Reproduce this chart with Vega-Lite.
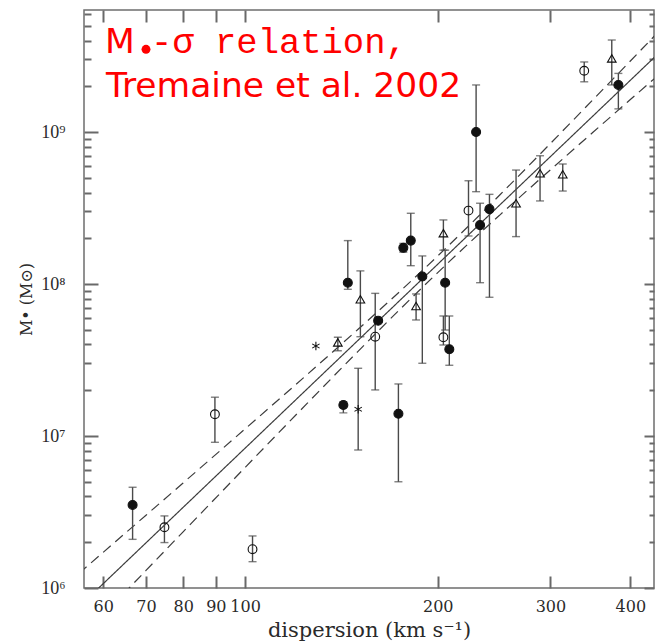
{
  "$schema": "https://vega.github.io/schema/vega-lite/v6.json",
  "width": 570,
  "height": 578,
  "autosize": {"type": "none"},
  "padding": {"left": 84, "top": 10, "right": 1, "bottom": 55},
  "background": "white",
  "config": {
    "view": {"stroke": "#6e6e6e", "strokeWidth": 1.5},
    "axis": {
      "grid": false,
      "domain": false,
      "ticks": true,
      "zindex": 1,
      "labelFont": "DejaVu Serif",
      "labelColor": "#2a2a2a",
      "titleFont": "DejaVu Serif",
      "titleFontWeight": "normal",
      "titleColor": "#2a2a2a"
    }
  },
  "datasets": {
    "galaxies": [
      {"sigma": 66.7, "mass": 3.52e6, "lo": 2.09e6, "hi": 4.6e6, "type": "filled"},
      {"sigma": 74.8, "mass": 2.51e6, "lo": 1.99e6, "hi": 2.98e6, "type": "open"},
      {"sigma": 89.7, "mass": 1.39e7, "lo": 9.09e6, "hi": 1.8e7, "type": "open"},
      {"sigma": 102.7, "mass": 1.8e6, "lo": 1.49e6, "hi": 2.2e6, "type": "open"},
      {"sigma": 129, "mass": 3.91e7, "lo": null, "hi": null, "type": "asterisk"},
      {"sigma": 139.6, "mass": 4.13e7, "lo": 3.64e7, "hi": 4.46e7, "type": "triangle"},
      {"sigma": 142.4, "mass": 1.6e7, "lo": 1.42e7, "hi": 1.68e7, "type": "filled"},
      {"sigma": 144.7, "mass": 1.02e8, "lo": 9.23e7, "hi": 1.93e8, "type": "filled"},
      {"sigma": 150.2, "mass": 1.5e7, "lo": 8.09e6, "hi": 2.79e7, "type": "asterisk"},
      {"sigma": 151.4, "mass": 7.93e7, "lo": 4.5e7, "hi": 1.22e8, "type": "triangle"},
      {"sigma": 159.7, "mass": 4.5e7, "lo": 2.01e7, "hi": 8.68e7, "type": "open"},
      {"sigma": 161.4, "mass": 5.74e7, "lo": null, "hi": null, "type": "filled"},
      {"sigma": 173.6, "mass": 1.4e7, "lo": 5.0e6, "hi": 2.2e7, "type": "filled"},
      {"sigma": 176.7, "mass": 1.73e8, "lo": 1.62e8, "hi": 1.85e8, "type": "filled"},
      {"sigma": 181.5, "mass": 1.93e8, "lo": 1.32e8, "hi": 2.92e8, "type": "filled"},
      {"sigma": 185, "mass": 7.17e7, "lo": 5.8e7, "hi": 8.6e7, "type": "triangle"},
      {"sigma": 189.2, "mass": 1.12e8, "lo": 3.01e7, "hi": 1.53e8, "type": "filled"},
      {"sigma": 204.1, "mass": 2.16e8, "lo": 1.67e8, "hi": 2.64e8, "type": "triangle"},
      {"sigma": 205.4, "mass": 1.02e8, "lo": 4.98e7, "hi": 1.67e8, "type": "filled"},
      {"sigma": 204.1, "mass": 4.46e7, "lo": 3.97e7, "hi": 6.16e7, "type": "open"},
      {"sigma": 208.5, "mass": 3.72e7, "lo": 2.92e7, "hi": 6.16e7, "type": "filled"},
      {"sigma": 223.4, "mass": 3.04e8, "lo": 2.07e8, "hi": 4.78e8, "type": "open"},
      {"sigma": 229.6, "mass": 1.0e9, "lo": 4.05e8, "hi": 2.04e9, "type": "filled"},
      {"sigma": 232.9, "mass": 2.44e8, "lo": 1.02e8, "hi": 3.4e8, "type": "filled"},
      {"sigma": 240.9, "mass": 3.11e8, "lo": 8.18e7, "hi": 3.89e8, "type": "filled"},
      {"sigma": 265.1, "mass": 3.4e8, "lo": 2.05e8, "hi": 5.62e8, "type": "triangle"},
      {"sigma": 289, "mass": 5.35e8, "lo": 3.52e8, "hi": 6.98e8, "type": "triangle"},
      {"sigma": 313.6, "mass": 5.27e8, "lo": 4.09e8, "hi": 6.16e8, "type": "triangle"},
      {"sigma": 338.8, "mass": 2.53e9, "lo": 2.14e9, "hi": 2.89e9, "type": "open"},
      {"sigma": 374.1, "mass": 3.05e9, "lo": 2.04e9, "hi": 4.03e9, "type": "triangle"},
      {"sigma": 383.1, "mass": 2.04e9, "lo": 1.42e9, "hi": 2.43e9, "type": "filled"}
    ],
    "fit": [
      {"sigma": 55, "mass": 7.52e5, "curve": "fit"},
      {"sigma": 440, "mass": 3.213e9, "curve": "fit"},
      {"sigma": 55, "mass": 1.249e6, "curve": "upper"},
      {"sigma": 60, "mass": 1.716e6, "curve": "upper"},
      {"sigma": 70, "mass": 3.013e6, "curve": "upper"},
      {"sigma": 80, "mass": 4.912e6, "curve": "upper"},
      {"sigma": 100, "mass": 1.114e7, "curve": "upper"},
      {"sigma": 125, "mass": 2.537e7, "curve": "upper"},
      {"sigma": 150, "mass": 5.017e7, "curve": "upper"},
      {"sigma": 175, "mass": 9.03e7, "curve": "upper"},
      {"sigma": 200, "mass": 1.53e8, "curve": "upper"},
      {"sigma": 225, "mass": 2.477e8, "curve": "upper"},
      {"sigma": 250, "mass": 3.85e8, "curve": "upper"},
      {"sigma": 300, "mass": 8.403e8, "curve": "upper"},
      {"sigma": 350, "mass": 1.64e9, "curve": "upper"},
      {"sigma": 400, "mass": 2.933e9, "curve": "upper"},
      {"sigma": 440, "mass": 4.447e9, "curve": "upper"},
      {"sigma": 55, "mass": 4.534e5, "curve": "lower"},
      {"sigma": 60, "mass": 6.64e5, "curve": "lower"},
      {"sigma": 70, "mass": 1.305e6, "curve": "lower"},
      {"sigma": 80, "mass": 2.342e6, "curve": "lower"},
      {"sigma": 100, "mass": 6.212e6, "curve": "lower"},
      {"sigma": 125, "mass": 1.639e7, "curve": "lower"},
      {"sigma": 150, "mass": 3.593e7, "curve": "lower"},
      {"sigma": 175, "mass": 6.883e7, "curve": "lower"},
      {"sigma": 200, "mass": 1.189e8, "curve": "lower"},
      {"sigma": 225, "mass": 1.896e8, "curve": "lower"},
      {"sigma": 250, "mass": 2.841e8, "curve": "lower"},
      {"sigma": 300, "mass": 5.641e8, "curve": "lower"},
      {"sigma": 350, "mass": 9.998e8, "curve": "lower"},
      {"sigma": 400, "mass": 1.635e9, "curve": "lower"},
      {"sigma": 440, "mass": 2.321e9, "curve": "lower"}
    ],
    "note": [
      {"sigma": 60.4, "mass": 3.295e9, "label": "M", "face": "sans"},
      {"sigma": 60.6, "mass": 1.707e9, "label": "Tremaine et al. 2002", "face": "sans"},
      {"sigma": 71.3, "mass": 3.295e9, "label": "-σ relation,", "face": "mono"},
      {"sigma": 70.0, "mass": 3.5e9, "label": "", "face": "dot"}
    ]
  },
  "layer": [
    {
      "data": {"name": "fit"},
      "mark": {"type": "line", "clip": true, "strokeWidth": 1.2, "color": "#3c3c3c", "interpolate": "monotone"},
      "encoding": {
        "x": {
          "field": "sigma", "type": "quantitative",
          "scale": {"type": "log", "domain": [56, 435.5], "nice": false},
          "axis": {
            "orient": "bottom",
            "values": [60, 70, 80, 90, 100, 200, 300, 400],
            "offset": -12,
            "ticks": true,
            "tickSize": 12,
            "tickColor": "dimgray",
            "tickWidth": 2,
            "labelPadding": 10,
            "labelFontSize": 16,
            "labelExpr": "'' + datum.value",
            "labelFlush": false,
            "labelOverlap": false,
            "title": "dispersion (km s⁻¹)",
            "titleFontSize": 21,
            "titlePadding": 5
          }
        },
        "y": {
          "field": "mass", "type": "quantitative",
          "scale": {"type": "log", "domain": [1e6, 6.35e9], "nice": false},
          "axis": {
            "orient": "left",
            "values": [1e6, 1e7, 1e8, 1e9],
            "offset": -14,
            "ticks": true,
            "tickSize": 14,
            "tickColor": "dimgray",
            "tickWidth": 2,
            "labelPadding": 19,
            "labelFont": "Liberation Serif",
            "labelFontSize": 18,
            "labelExpr": "datum.value == 1e6 ? '10⁶' : datum.value == 1e7 ? '10⁷' : datum.value == 1e8 ? '10⁸' : '10⁹'",
            "labelOverlap": false,
            "labelFlush": false,
            "title": "M• (M⊙)",
            "titleFontSize": 16,
            "titlePadding": 6
          }
        },
        "detail": {"field": "curve"},
        "strokeDash": {
          "field": "curve", "type": "nominal",
          "scale": {"domain": ["fit", "upper", "lower"], "range": [[1, 0], [10, 6], [10, 6]]},
          "legend": null
        }
      }
    },
    {
      "data": {"name": "galaxies"},
      "transform": [{"filter": "isValid(datum.lo)"}],
      "mark": {"type": "rule", "color": "#4a4a4a", "strokeWidth": 1.4},
      "encoding": {
        "x": {
          "field": "sigma", "type": "quantitative",
          "scale": {"type": "log", "domain": [56, 435.5], "nice": false},
          "axis": {"orient": "top", "values": [60, 70, 80, 90, 100, 200, 300, 400], "offset": -12, "ticks": true, "tickSize": 12, "tickColor": "dimgray", "tickWidth": 2, "labels": false, "title": null}
        },
        "y": {
          "field": "lo", "type": "quantitative",
          "scale": {"type": "log", "domain": [1e6, 6.35e9], "nice": false},
          "axis": {"orient": "right", "values": [1e6, 1e7, 1e8, 1e9], "offset": -10, "ticks": true, "tickSize": 10, "tickColor": "dimgray", "tickWidth": 2, "labels": false, "title": null}
        },
        "y2": {"field": "hi"}
      }
    },
    {
      "data": {"name": "galaxies"},
      "transform": [{"filter": "isValid(datum.lo)"}],
      "mark": {"type": "tick", "orient": "horizontal", "color": "#4a4a4a", "size": 8, "thickness": 1.4},
      "encoding": {
        "x": {"field": "sigma", "type": "quantitative", "scale": {"type": "log", "domain": [56, 435.5], "nice": false}, "axis": null},
        "y": {
          "field": "lo", "type": "quantitative",
          "scale": {"type": "log", "domain": [1e6, 6.35e9], "nice": false},
          "axis": {
            "orient": "left",
            "values": [2e6, 3e6, 4e6, 5e6, 6e6, 7e6, 8e6, 9e6, 2e7, 3e7, 4e7, 5e7, 6e7, 7e7, 8e7, 9e7, 2e8, 3e8, 4e8, 5e8, 6e8, 7e8, 8e8, 9e8, 2e9, 3e9, 4e9, 5e9, 6e9],
            "offset": -7,
            "ticks": true,
            "tickSize": 7,
            "tickColor": "dimgray",
            "tickWidth": 2,
            "labels": false,
            "title": null
          }
        }
      }
    },
    {
      "data": {"name": "galaxies"},
      "transform": [{"filter": "isValid(datum.hi)"}],
      "mark": {"type": "tick", "orient": "horizontal", "color": "#4a4a4a", "size": 8, "thickness": 1.4},
      "encoding": {
        "x": {"field": "sigma", "type": "quantitative", "scale": {"type": "log", "domain": [56, 435.5], "nice": false}, "axis": null},
        "y": {
          "field": "hi", "type": "quantitative",
          "scale": {"type": "log", "domain": [1e6, 6.35e9], "nice": false},
          "axis": {
            "orient": "right",
            "values": [2e6, 3e6, 4e6, 5e6, 6e6, 7e6, 8e6, 9e6, 2e7, 3e7, 4e7, 5e7, 6e7, 7e7, 8e7, 9e7, 2e8, 3e8, 4e8, 5e8, 6e8, 7e8, 8e8, 9e8, 2e9, 3e9, 4e9, 5e9, 6e9],
            "offset": -5,
            "ticks": true,
            "tickSize": 5,
            "tickColor": "dimgray",
            "tickWidth": 2,
            "labels": false,
            "title": null
          }
        }
      }
    },
    {
      "data": {"name": "galaxies"},
      "mark": {"type": "point", "filled": true, "stroke": "#111111", "strokeWidth": 1.1, "opacity": 1},
      "encoding": {
        "x": {"field": "sigma", "type": "quantitative", "scale": {"type": "log", "domain": [56, 435.5], "nice": false}, "axis": null},
        "y": {"field": "mass", "type": "quantitative", "scale": {"type": "log", "domain": [1e6, 6.35e9], "nice": false}, "axis": null},
        "shape": {
          "field": "type", "type": "nominal",
          "scale": {"domain": ["filled", "open", "triangle", "asterisk"], "range": ["circle", "circle", "triangle-up", "M0,-1L0,1M-0.87,-0.5L0.87,0.5M-0.87,0.5L0.87,-0.5"]},
          "legend": null
        },
        "fill": {
          "field": "type", "type": "nominal",
          "scale": {"domain": ["filled", "open", "triangle", "asterisk"], "range": ["#111111", "transparent", "transparent", "transparent"]},
          "legend": null
        },
        "size": {
          "field": "type", "type": "nominal",
          "scale": {"domain": ["filled", "open", "triangle", "asterisk"], "range": [80, 72, 45, 45]},
          "legend": null
        }
      }
    },
    {
      "data": {"name": "note"},
      "transform": [{"filter": "datum.face == 'sans'"}],
      "mark": {"type": "text", "font": "DejaVu Sans", "fontSize": 34.5, "color": "#ff0000", "align": "left", "baseline": "alphabetic"},
      "encoding": {
        "x": {"field": "sigma", "type": "quantitative", "scale": {"type": "log", "domain": [56, 435.5], "nice": false}, "axis": null},
        "y": {"field": "mass", "type": "quantitative", "scale": {"type": "log", "domain": [1e6, 6.35e9], "nice": false}, "axis": null},
        "text": {"field": "label"}
      }
    },
    {
      "data": {"name": "note"},
      "transform": [{"filter": "datum.face == 'mono'"}],
      "mark": {"type": "text", "font": "Liberation Mono", "fontSize": 35.5, "color": "#ff0000", "align": "left", "baseline": "alphabetic"},
      "encoding": {
        "x": {"field": "sigma", "type": "quantitative", "scale": {"type": "log", "domain": [56, 435.5], "nice": false}, "axis": null},
        "y": {"field": "mass", "type": "quantitative", "scale": {"type": "log", "domain": [1e6, 6.35e9], "nice": false}, "axis": null},
        "text": {"field": "label"}
      }
    },
    {
      "data": {"name": "note"},
      "transform": [{"filter": "datum.face == 'dot'"}],
      "mark": {"type": "point", "shape": "circle", "filled": true, "color": "#ff0000", "size": 80, "opacity": 1},
      "encoding": {
        "x": {"field": "sigma", "type": "quantitative", "scale": {"type": "log", "domain": [56, 435.5], "nice": false}, "axis": null},
        "y": {"field": "mass", "type": "quantitative", "scale": {"type": "log", "domain": [1e6, 6.35e9], "nice": false}, "axis": null}
      }
    }
  ],
  "resolve": {"axis": {"x": "independent", "y": "independent"}}
}
